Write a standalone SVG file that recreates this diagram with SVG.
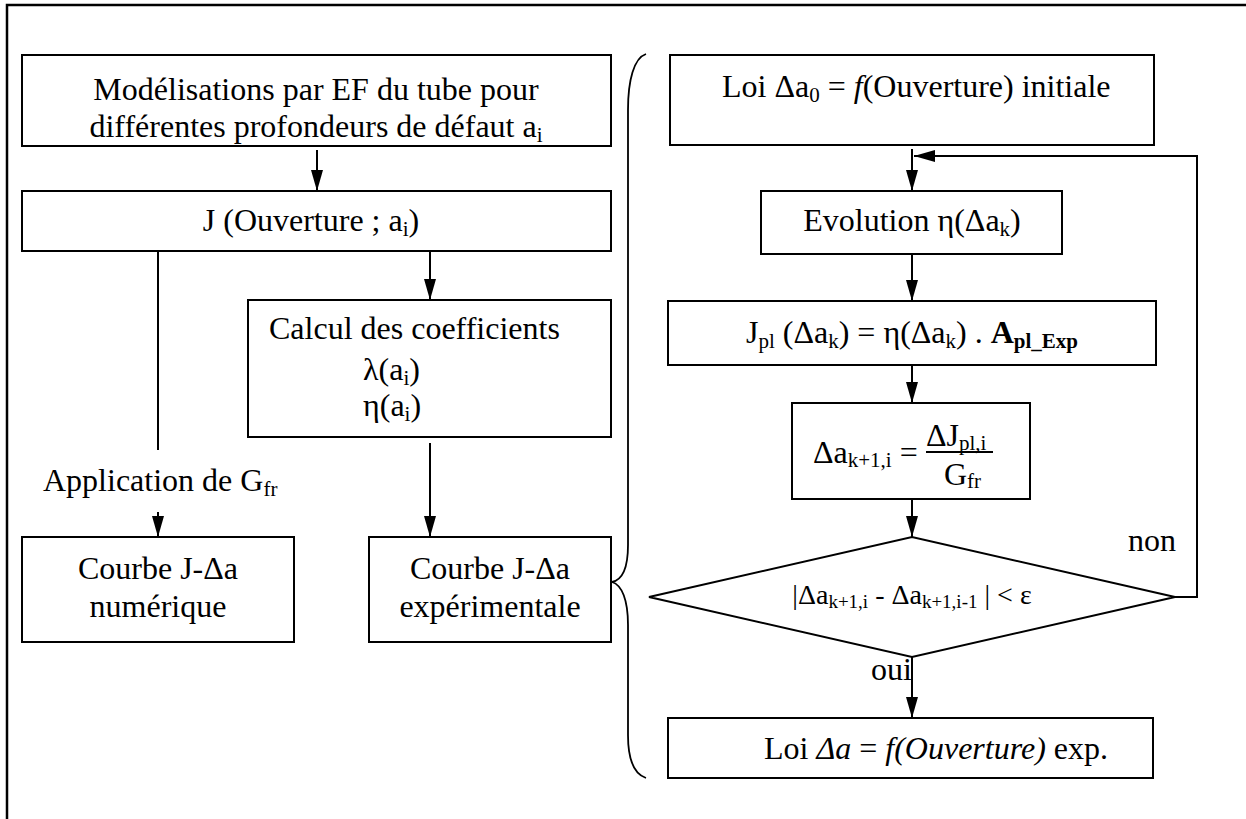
<svg xmlns="http://www.w3.org/2000/svg" width="1246" height="819" viewBox="0 0 1246 819">
<defs>
<marker id="ah" markerUnits="userSpaceOnUse" markerWidth="21" markerHeight="12" refX="21" refY="6" orient="auto"><path d="M0,0 L21,6 L0,12 z" fill="#000"/></marker>
</defs>
<style>
text{font-family:"Liberation Serif","Times New Roman",serif;font-size:32px;fill:#000}
.b{fill:#fff;stroke:#000;stroke-width:2}
.c{fill:none;stroke:#000;stroke-width:2}
.s{font-size:21px}
.it{font-style:italic}
.bd{font-weight:bold}
.m{text-anchor:middle}
</style>
<rect width="1246" height="819" fill="#fff"/>
<path d="M7,819 V5 H1246" fill="none" stroke="#000" stroke-width="2.5"/>

<g id="connectors">
<path class="c" d="M317,150 V191" marker-end="url(#ah)"/>
<path class="c" d="M158,251 V450"/>
<path class="c" d="M158,512 V537" marker-end="url(#ah)"/>
<path class="c" d="M430,251 V300" marker-end="url(#ah)"/>
<path class="c" d="M430,443 V537" marker-end="url(#ah)"/>
<path class="c" d="M912,149 V191" marker-end="url(#ah)"/>
<path class="c" d="M1175,597 H1197 V156 H914" marker-end="url(#ah)"/>
<path class="c" d="M912,254 V301" marker-end="url(#ah)"/>
<path class="c" d="M912,365 V403" marker-end="url(#ah)"/>
<path class="c" d="M912,499 V537" marker-end="url(#ah)"/>
<path class="c" d="M912,657 V718" marker-end="url(#ah)"/>
</g>

<g id="brace">
<path d="M646,54 C634,58 628,80 628,110 V545 C628,568 622,580 612,582 C622,585 628,600 628,625 V735 C628,760 634,774 646,778" fill="none" stroke="#000" stroke-width="1.8"/>
</g>

<g id="n-modelisation">
<rect class="b" x="22" y="55" width="589" height="91"/>
<text class="m" x="316" y="100">Modélisations par EF du tube pour</text>
<text class="m" x="316" y="137">différentes profondeurs de défaut a<tspan class="s" dy="5">i</tspan></text>
</g>

<g id="n-j">
<rect class="b" x="22" y="191" width="589" height="60"/>
<text class="m" x="311" y="231">J (Ouverture ; a<tspan class="s" dy="5">i</tspan><tspan dy="-5">)</tspan></text>
</g>

<g id="n-calcul">
<rect class="b" x="248" y="300" width="363" height="137"/>
<text x="269" y="339">Calcul des coefficients</text>
<text x="363" y="380">λ(a<tspan class="s" dy="5">i</tspan><tspan dy="-5">)</tspan></text>
<text x="363" y="416">η(a<tspan class="s" dy="5">i</tspan><tspan dy="-5">)</tspan></text>
</g>

<g id="l-application">
<text x="43" y="491">Application de G<tspan class="s" dy="5">fr</tspan></text>
</g>

<g id="n-courbe-num">
<rect class="b" x="22" y="537" width="272" height="105"/>
<text class="m" x="158" y="579">Courbe J-Δa</text>
<text class="m" x="158" y="617">numérique</text>
</g>

<g id="n-courbe-exp">
<rect class="b" x="369" y="537" width="242" height="105"/>
<text class="m" x="490" y="579">Courbe J-Δa</text>
<text class="m" x="490" y="617">expérimentale</text>
</g>

<g id="n-loi-init">
<rect class="b" x="670" y="55" width="484" height="90"/>
<text x="722" y="97">Loi Δa<tspan class="s" dy="5">0</tspan><tspan dy="-5"> = </tspan><tspan class="it">f</tspan>(Ouverture) initiale</text>
</g>

<g id="n-evolution">
<rect class="b" x="761" y="191" width="301" height="63"/>
<text class="m" x="912" y="231">Evolution η(Δa<tspan class="s" dy="5">k</tspan><tspan dy="-5">)</tspan></text>
</g>

<g id="n-jpl">
<rect class="b" x="668" y="301" width="488" height="64"/>
<text class="m" x="912" y="343">J<tspan class="s" dy="5">pl</tspan><tspan dy="-5"> (Δa</tspan><tspan class="s" dy="5">k</tspan><tspan dy="-5">) = η(Δa</tspan><tspan class="s" dy="5">k</tspan><tspan dy="-5">) . </tspan><tspan class="bd">A</tspan><tspan class="s bd" dy="5">pl_Exp</tspan></text>
</g>

<g id="n-delta">
<rect class="b" x="792" y="403" width="238" height="96"/>
<text x="813" y="463">Δa<tspan class="s" dy="4">k+1,i</tspan><tspan dy="-4"> =</tspan></text>
<text x="926" y="446">ΔJ<tspan class="s" dy="4">pl,i</tspan></text>
<line x1="926" y1="452" x2="993" y2="452" stroke="#000" stroke-width="2"/>
<text x="944" y="485">G<tspan class="s" dy="3">fr</tspan></text>
</g>

<g id="n-test">
<polygon class="b" points="649,597 912,537 1175,597 912,657"/>
<text class="m" x="912" y="604" style="font-size:28px">|Δa<tspan style="font-size:19px" dy="4">k+1,i</tspan><tspan dy="-4"> - Δa</tspan><tspan style="font-size:19px" dy="4">k+1,i-1</tspan><tspan dy="-4"> | &lt; ε</tspan></text>
</g>

<g id="labels">
<text x="1128" y="551">non</text>
<text x="871" y="680">oui</text>
</g>

<g id="n-loi-exp">
<rect class="b" x="668" y="718" width="485" height="60"/>
<text x="764" y="759">Loi <tspan class="it">Δa</tspan> = <tspan class="it">f(Ouverture)</tspan> exp.</text>
</g>
</svg>
